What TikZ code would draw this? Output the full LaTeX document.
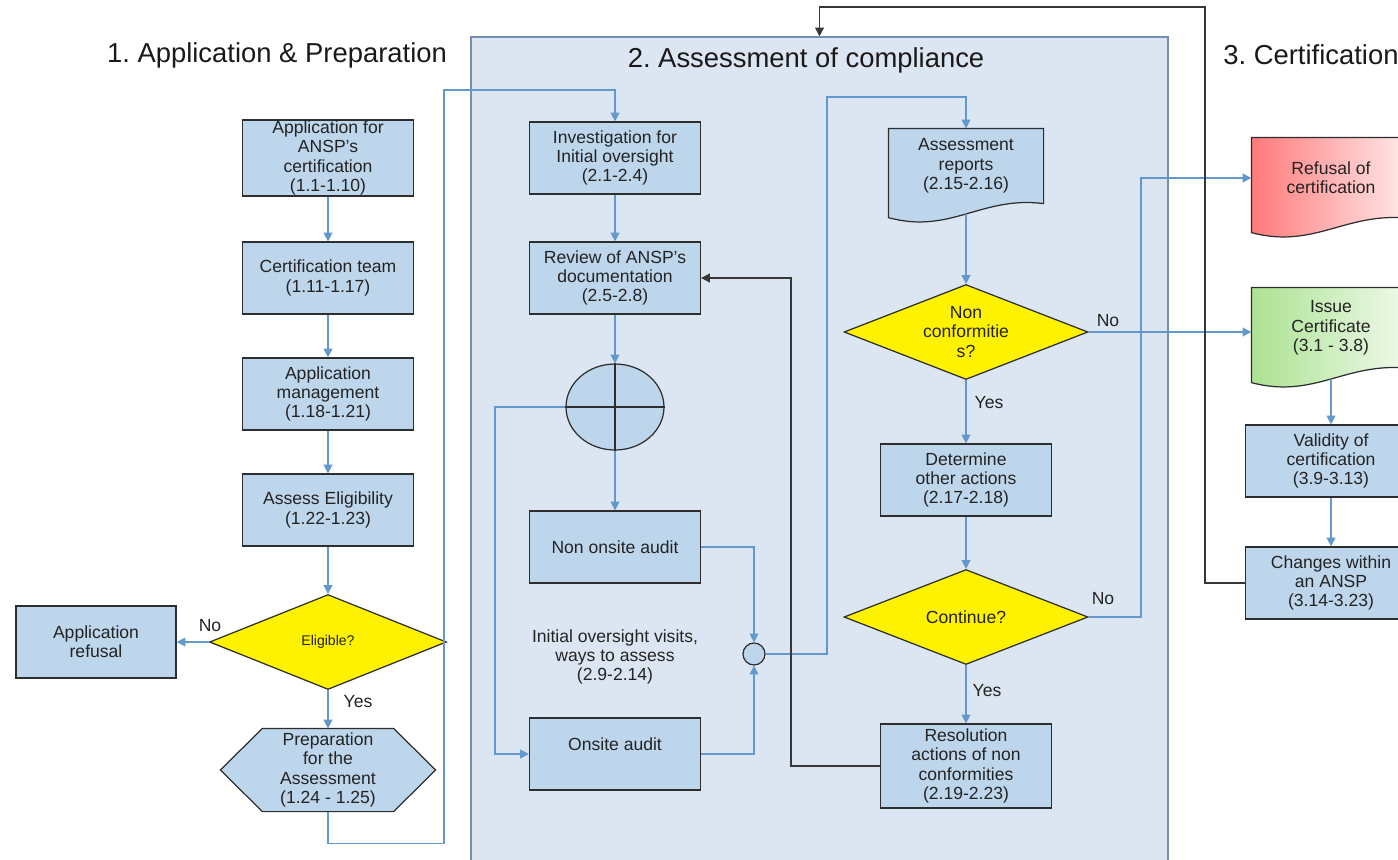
\documentclass[tikz,border=0pt]{standalone}
\usepackage{fontspec}
\setmainfont{Liberation Sans}
\usepackage{tikz}
\usetikzlibrary{arrows.meta,shapes,calc,positioning,backgrounds}
\definecolor{boxblue}{RGB}{190,214,236}
\definecolor{areablue}{RGB}{220,230,242}
\definecolor{arealine}{RGB}{118,142,176}
\definecolor{boxline}{RGB}{45,45,45}
\definecolor{flowblue}{RGB}{98,152,204}
\definecolor{backline}{RGB}{55,55,55}
\definecolor{txt}{RGB}{35,35,35}
\definecolor{refred}{RGB}{255,122,122}
\definecolor{refpink}{RGB}{255,236,236}
\definecolor{issgreen}{RGB}{172,226,146}
\definecolor{isslight}{RGB}{240,250,236}
\newcommand{\boxfont}{\fontsize{10}{11}\selectfont}
\newcommand{\smallboxfont}{\fontsize{8}{9.5}\selectfont}
\newcommand{\titlefont}{\fontsize{15.6}{18}\selectfont}
\tikzstyle{box}=[rectangle,draw=boxline,fill=boxblue,line width=0.7pt,minimum width=3.42cm,minimum height=1.44cm,inner sep=0.5pt,align=center,font=\boxfont,text=txt]
\tikzstyle{docbox}=[box,draw=none,fill=none,minimum width=3.16cm,minimum height=1.6cm]
\tikzstyle{decision}=[diamond,draw=boxline,fill=yellow,line width=0.7pt,shape aspect=2.57,minimum width=4.88cm,minimum height=1.9cm,inner sep=0pt,align=center,font=\boxfont,text=txt]
\tikzstyle{junction}=[circle,draw=boxline,fill=boxblue,line width=0.7pt,minimum size=0.44cm,inner sep=0pt]
\tikzstyle{region}=[rectangle,draw=arealine,fill=areablue,line width=0.8pt,minimum width=13.94cm,minimum height=16.86cm]
\tikzstyle{lbl}=[inner sep=0pt,align=center,font=\boxfont,text=txt]
\tikzstyle{title}=[inner sep=0pt,font=\titlefont,text=black!90]
\tikzstyle{flow}=[draw=flowblue,line width=0.8pt,-{Triangle[length=5pt,width=5pt]}]
\tikzstyle{back}=[draw=backline,line width=0.9pt,-{Triangle[length=5pt,width=5pt]}]
% document outline with a wavy bottom
\newcommand{\docpath}[2]{\path[#2] (#1.north west) -- (#1.north east) -- (#1.south east)
  .. controls ($(#1.south west)!.6!(#1.south east)+(0,-8)$) and ($(#1.south west)!.4!(#1.south east)+(0,31)$)
  .. ($(#1.south west)+(0,14)$) -- cycle;}
\frenchspacing

\begin{document}
\begin{tikzpicture}[x=0.02cm,y=-0.02cm]
\useasboundingbox (0,0) rectangle (1398,859);
\clip (0,0) rectangle (1398,859);

\begin{scope}[on background layer]
\node[region] (assess) at (819.5,458.5) {};
\end{scope}

\node[title] (t1) at (277,55) {1. Application \& Preparation};
\node[title] (t2) at (806,60) {2. Assessment of compliance};
\node[title,anchor=west] (t3) at (1223,55) {3. Certification};

% 1. application
\node[box] (app) at (328,158) {Application for\\ANSP's\\certification\\(1.1-1.10)};
\node[box] (team) at (328,278) {Certification team\\(1.11-1.17)};
\node[box] (mgmt) at (328,394) {Application\\management\\(1.18-1.21)};
\node[box] (elig) at (328,510) {Assess Eligibility\\(1.22-1.23)};
\node[decision,minimum width=4.74cm,font=\smallboxfont] (eligq) at (328,642) {Eligible?};
\node[box,minimum width=3.2cm] (refapp) at (96,642) {Application\\refusal};
\node[box,draw=none,fill=none,minimum width=4.28cm,minimum height=1.64cm] (prep) at (328,770) {Preparation\\for the\\Assessment\\(1.24 - 1.25)};

% 2. assessment
\node[box] (inv) at (615,158) {Investigation for\\Initial oversight\\(2.1-2.4)};
\node[box] (rev) at (615,278) {Review of ANSP's\\documentation\\(2.5-2.8)};
\node[ellipse,draw=boxline,fill=boxblue,line width=0.7pt,minimum width=1.96cm,minimum height=1.72cm] (split) at (615,407) {};
\draw[boxline,line width=0.7pt] (split.north) -- (split.south) (split.west) -- (split.east);
\node[box] (offsite) at (615,547) {Non onsite audit};
\node[lbl] (ways) at (615,657) {Initial oversight visits,\\ways to assess\\(2.9-2.14)};
\node[box] (onsite) at (615,754) {Onsite audit\\\mbox{}};
\node[junction] (join) at (754,654) {};

\node[docbox,minimum width=3.08cm,minimum height=1.48cm] (reports) at (966,166) {Assessment\\reports\\(2.15-2.16)};
\node[decision] (ncq) at (966,332) {Non\\conformitie\\s?};
\node[box] (other) at (966,480) {Determine\\other actions\\(2.17-2.18)};
\node[decision] (contq) at (966,617) {Continue?};
\node[box,minimum height=1.68cm] (resol) at (966,766) {Resolution\\actions of non\\conformities\\(2.19-2.23)};

% 3. certification
\node[docbox] (refcert) at (1331,178) {Refusal of\\certification};
\node[docbox] (issue) at (1331,328) {Issue\\Certificate\\(3.1 - 3.8)};
\node[box] (valid) at (1331,461) {Validity of\\certification\\(3.9-3.13)};
\node[box] (changes) at (1331,583) {Changes within\\an ANSP\\(3.14-3.23)};

\begin{scope}[on background layer]
\docpath{reports}{draw=boxline,fill=boxblue,line width=0.7pt}
\docpath{refcert}{draw=boxline,line width=0.7pt,left color=refred,right color=refpink}
\docpath{issue}{draw=boxline,line width=0.7pt,left color=issgreen,right color=isslight}
\draw[boxline,fill=boxblue,line width=0.7pt] ($(prep.north west)+(42,0)$) -- ($(prep.north east)+(-42,0)$) -- (prep.east)
  -- ($(prep.south east)+(-42,0)$) -- ($(prep.south west)+(42,0)$) -- (prep.west) -- cycle;
\end{scope}

\foreach \a/\b in {app/team,team/mgmt,mgmt/elig,elig/eligq,eligq/prep,inv/rev,rev/split,split/offsite,ncq/other,other/contq,contq/resol,valid/changes}
  \draw[flow] (\a) -- (\b);
\draw[flow] (eligq.west) -- (refapp.east);
\draw[flow] (prep.south) -- ++(0,32) -| (444,90) -| (inv.north);
\draw[flow] (split.west) -- (495,407) |- (onsite.west);
\draw[flow] (offsite.east) -| (join.north);
\draw[flow] (onsite.east) -| (join.south);
\draw[flow] (join.east) -| (827,97) -| (reports.north);
\draw[flow] ([yshift=-0.2cm]reports.south) -- (ncq);
\draw[flow] (ncq.east) -- (ncq.east -| issue.west);
\draw[flow] (contq.east) -| (1141,400) |- (refcert.west);
\draw[flow] ([yshift=-0.2cm]issue.south) -- (valid);
\draw[back] (resol.west) -| ($(rev.east)+(90,0)$) -- (rev.east);
\draw[back] (changes.west) -| (1205,7) -| (assess.north);

\node[lbl] (no1) at (210,626) {No};
\node[lbl] (yes1) at (358,702) {Yes};
\node[lbl] (no2) at (1108,321) {No};
\node[lbl] (yes2) at (989,403) {Yes};
\node[lbl] (no3) at (1103,599) {No};
\node[lbl] (yes3) at (987,691) {Yes};
\end{tikzpicture}
\end{document}
